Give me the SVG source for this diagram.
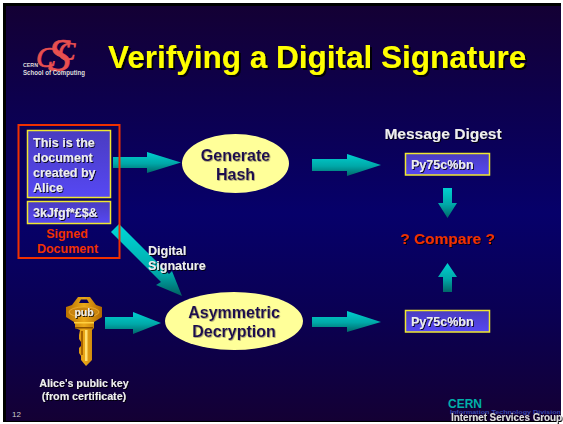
<svg xmlns="http://www.w3.org/2000/svg" width="563" height="424" viewBox="0 0 563 424">
<defs>
<linearGradient id="bg" x1="0" y1="0" x2="0" y2="1"><stop offset="0" stop-color="#140034"/><stop offset="0.25" stop-color="#0c0050"/><stop offset="0.5" stop-color="#06006a"/><stop offset="0.75" stop-color="#0a0052"/><stop offset="1" stop-color="#140034"/></linearGradient>
<linearGradient id="teal" x1="0" y1="0" x2="0" y2="1"><stop offset="0" stop-color="#00d0d0"/><stop offset="0.55" stop-color="#00a8a8"/><stop offset="1" stop-color="#006868"/></linearGradient>
<linearGradient id="tealD" x1="0" y1="0" x2="0" y2="1"><stop offset="0" stop-color="#00d8d8"/><stop offset="0.7" stop-color="#00a8a8"/><stop offset="1" stop-color="#006060"/></linearGradient>
<linearGradient id="box" x1="0" y1="0" x2="0" y2="1"><stop offset="0" stop-color="#4a3cc0"/><stop offset="1" stop-color="#5648f4"/></linearGradient>
<linearGradient id="gold" x1="0" y1="0" x2="1" y2="0"><stop offset="0" stop-color="#b87000"/><stop offset="0.5" stop-color="#eaa818"/><stop offset="1" stop-color="#b06800"/></linearGradient>
<filter id="sh" x="-10%" y="-20%" width="120%" height="150%"><feDropShadow dx="1" dy="1" stdDeviation="0.3" flood-color="#000" flood-opacity="0.85"/></filter>
<filter id="sh2" x="-10%" y="-20%" width="120%" height="150%"><feDropShadow dx="2" dy="2" stdDeviation="0.3" flood-color="#000" flood-opacity="0.9"/></filter>
<filter id="shE" x="-10%" y="-20%" width="120%" height="150%"><feDropShadow dx="0.7" dy="0.7" stdDeviation="0.3" flood-color="#8a8060" flood-opacity="0.9"/></filter>
</defs>
<style>
text{font-family:"Liberation Sans",Arial,sans-serif;font-weight:bold}
.w{fill:#eeeeee;font-size:12.500px;filter:url(#sh)}
.m{text-anchor:middle}
.r{fill:#f03000;font-size:12.500px}
.el{fill:#ffff99}
.et{fill:#1e0a50;font-size:16px;text-anchor:middle;filter:url(#shE)}
.b{fill:url(#box);stroke:#f0e830;stroke-width:1.5}
.a{fill:url(#teal)}
.lg{fill:#e85050;stroke:#e85050;stroke-width:0.700;font-family:"Liberation Serif",serif;font-style:italic;font-weight:normal}
</style>
<rect width="563" height="424" fill="#fff"/>
<rect x="3" y="3" width="558" height="419" fill="#000"/>
<rect x="6" y="6" width="555" height="415" fill="url(#bg)"/>

<g id="logo">
<text class="lg" x="36" y="67" font-size="30">C</text>
<text class="lg" x="48" y="71" font-size="46">S</text>
<text class="lg" x="58" y="60" font-size="26">C</text>
<text x="23" y="66.500" font-size="5.500" fill="#dddddd" textLength="15" lengthAdjust="spacingAndGlyphs">CERN</text>
<text x="23" y="74.500" font-size="6.500" fill="#dddddd" textLength="62" lengthAdjust="spacingAndGlyphs">School of Computing</text>
</g>
<text id="title" x="108" y="68" font-size="31.500" fill="#ffff00" filter="url(#sh2)">Verifying a Digital Signature</text>

<g id="connectors">
<polygon class="a" points="113,157 147,157 147,152 181,162.500 147,173 147,168 113,168"/>
<polygon class="a" points="312,159 347,159 347,154 381,165 347,176 347,171 312,171"/>
<polygon class="a" points="105,317 133,317 133,312 161,323 133,334 133,329 105,329"/>
<polygon class="a" points="312,317 347,317 347,311 381,322 347,332 347,327 312,327"/>
<polygon fill="url(#tealD)" points="119,224 169,274 172,271 182,296 156,285 161,282 111,232"/>
<polygon class="a" points="443,188 452,188 452,203 457,203 447.500,218 438,203 443,203"/>
<polygon class="a" points="447.500,263 457,277 452,277 452,292 443,292 443,277 438,277"/>
</g>

<g id="signed-document">
<rect x="18.500" y="125" width="101" height="133" fill="none" stroke="#f03000" stroke-width="2"/>
<text class="r m" x="67" y="238">Signed</text>
<text class="r m" x="67.500" y="253">Document</text>
</g>
<g id="document">
<rect class="b" x="27.500" y="130.500" width="83" height="67"/>
<text class="w" x="33" y="147">This is the</text>
<text class="w" x="33" y="162">document</text>
<text class="w" x="33" y="177">created by</text>
<text class="w" x="33" y="192">Alice</text>
</g>
<g id="signature">
<rect class="b" x="27.500" y="201.500" width="83" height="22"/>
<text class="w" x="33" y="217">3kJfgf*£$&amp;</text>
</g>
<text id="digital-signature" class="w" x="148" y="255">Digital<tspan x="148" y="270">Signature</tspan></text>

<g id="generate-hash">
<ellipse class="el" cx="235.500" cy="163.500" rx="53.500" ry="29.500"/>
<text class="et" x="235.500" y="161">Generate</text>
<text class="et" x="235.500" y="179.500">Hash</text>
</g>
<g id="asymmetric-decryption">
<ellipse class="el" cx="234" cy="321" rx="69" ry="29"/>
<text class="et" x="234" y="318">Asymmetric</text>
<text class="et" x="234" y="337">Decryption</text>
</g>

<text id="message-digest" class="w m" x="443" y="139" style="font-size:15.500px">Message Digest</text>
<g id="digest-top">
<rect class="b" x="405.500" y="153.500" width="84" height="21.500"/>
<text class="w" x="411" y="169">Py75c%bn</text>
</g>
<g id="digest-bottom">
<rect class="b" x="405.500" y="310.500" width="84" height="21.500"/>
<text class="w" x="411" y="326">Py75c%bn</text>
</g>
<text id="compare" x="447.500" y="243.500" text-anchor="middle" font-size="15.500" fill="#f03000" filter="url(#sh)">? Compare ?</text>

<g id="key">
<path d="M78,297 H90 L96,305 L102,307 V317 L94,322 V328 L92,330 V360 L86,366 L81,360 V356 L79,353 V348 L81,346 V342 L79,339 V335 L80,330 L75,328 V322 L74,322 L66,317 V307 L72,305 Z" fill="url(#gold)"/>
<path d="M81,299.500 H87 L89,303 H79 Z" fill="#0a0058"/>
<ellipse cx="84" cy="312" rx="15" ry="5" fill="#c88410" stroke="#f0b030" stroke-width="0.800"/>
<rect x="74" y="322" width="20" height="1.500" fill="#ffd040"/>
<rect x="75" y="327" width="18" height="1.500" fill="#8a5000"/>
<rect x="85" y="330" width="2.500" height="31" fill="#ffe070"/>
<rect x="81" y="331" width="2" height="24" fill="#a86400"/>
<text class="m" x="84" y="316" font-size="10.500" fill="#eeeeee" filter="url(#sh)">pub</text>
</g>
<text class="w m" x="84" y="387" style="font-size:10.700px">Alice's public key</text>
<text class="w m" x="84" y="400" style="font-size:10.700px">(from certificate)</text>

<text x="12" y="417" font-size="8" fill="#cccccc" style="font-weight:normal">12</text>
<g id="cern-footer">
<text x="448" y="408" font-size="12" fill="#00b0a8">CERN</text>
<text x="450" y="413.500" font-size="6" fill="#3a48b0" textLength="111" lengthAdjust="spacingAndGlyphs">Information Technology Division</text>
<text x="451" y="420.500" font-size="10.500" fill="#dddddd" textLength="111" lengthAdjust="spacingAndGlyphs" filter="url(#sh)">Internet Services Group</text>
</g>
</svg>
